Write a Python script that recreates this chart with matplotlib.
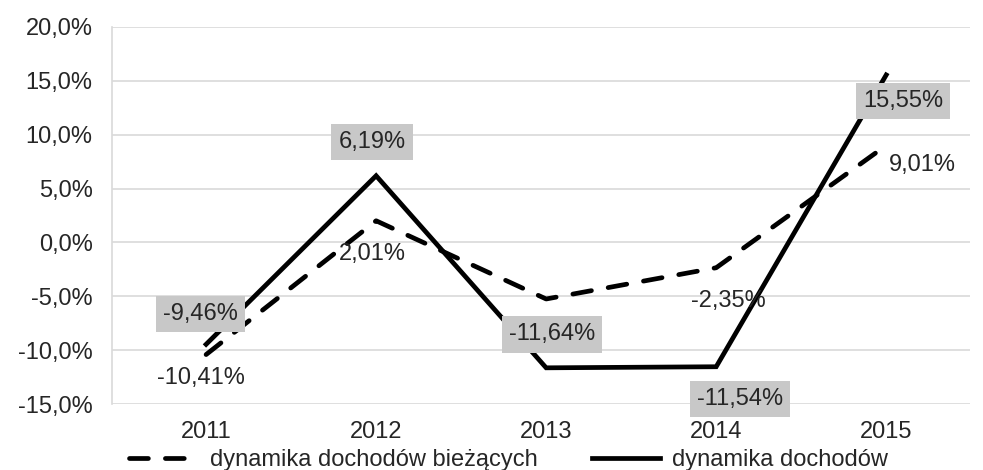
import matplotlib
matplotlib.use("Agg")
from matplotlib import pyplot as plt
from matplotlib.lines import Line2D

years = ['2011', '2012', '2013', '2014', '2015']
biezace = [-10.41, 2.01, -5.25, -2.35, 9.01]      # dynamika dochodów bieżących
ogolem = [-9.46, 6.19, -11.64, -11.54, 15.55]      # dynamika dochodów
yticks = [-15, -10, -5, 0, 5, 10, 15, 20]

plt.rcParams['font.family'] = ['Liberation Sans', 'DejaVu Sans']
FS = 17
TXT = '#262626'

fig = plt.figure(figsize=(9.83, 4.70), dpi=100)
ax = fig.add_axes([0.114, 0.1404, 0.873, 0.8022])

x = list(range(len(years)))
ax.plot(x, biezace, color='black', lw=3.4, linestyle=(0, (4, 3.6)),
        dash_capstyle='round', solid_capstyle='round', zorder=3)
ax.plot(x, ogolem, color='black', lw=3.4, solid_joinstyle='miter', zorder=3)

ax.set_xlim(-0.553, 4.494)
ax.set_ylim(-15, 20)
ax.set_yticks(yticks)
ax.set_yticklabels([('%.1f%%' % v).replace('.', ',') for v in yticks])
ax.set_xticks(x)
ax.set_xticklabels(years)
ax.tick_params(axis='both', length=0, labelsize=FS, colors=TXT)
ax.tick_params(axis='y', pad=14)
ax.tick_params(axis='x', pad=12)
ax.grid(axis='y', color='#d9d9d9', lw=1.2)
ax.set_axisbelow(True)
for s in ['top', 'right', 'bottom']:
    ax.spines[s].set_visible(False)
ax.spines['left'].set_color('#d9d9d9')
ax.spines['left'].set_linewidth(1.2)

def fmt(v):
    return ('%.2f%%' % v).replace('.', ',')

# offsets in points (dx, dy) for labels
off_ogolem = [(-4, 22), (-3, 24), (4, 24), (17, -23), (12, -19)]
off_biez = [(-4, -17), (-3, -24), None, (9, -24), (26, -14)]

for i, v in enumerate(ogolem):
    dx, dy = off_ogolem[i]
    ax.annotate(fmt(v), (i, v), xytext=(dx, dy), textcoords='offset points',
                ha='center', va='center', fontsize=FS, color=TXT, zorder=4,
                bbox=dict(boxstyle='square,pad=0.3', fc='#c8c8c8', ec='none'))
for i, v in enumerate(biezace):
    if off_biez[i] is None:
        continue
    dx, dy = off_biez[i]
    ax.annotate(fmt(v), (i, v), xytext=(dx, dy), textcoords='offset points',
                ha='center', va='center', fontsize=FS, color=TXT, zorder=4)

handles = [Line2D([], [], color='black', lw=3.4, linestyle=(0, (4, 3.6)),
                  dash_capstyle='round'),
           Line2D([], [], color='black', lw=3.4)]
leg = fig.legend(handles, ['dynamika dochodów bieżących', 'dynamika dochodów'],
                 loc='lower left', bbox_to_anchor=(0.11, -0.047), ncol=2, frameon=False,
                 fontsize=FS, handlelength=2.9, handletextpad=0.5, columnspacing=2.3)
for t in leg.get_texts():
    t.set_color(TXT)

fig.savefig('out.png', dpi=100)
